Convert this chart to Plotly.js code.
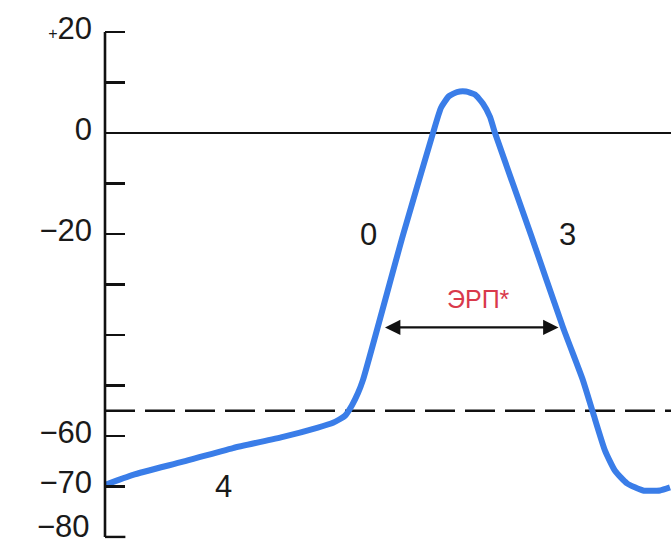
<!DOCTYPE html>
<html>
<head>
<meta charset="utf-8">
<script src="https://cdn.plot.ly/plotly-3.0.1.min.js"></script>
<style>
  html, body { margin: 0; padding: 0; background: #ffffff; overflow: hidden; }
  #chart { width: 671px; height: 549px; }
</style>
</head>
<body>
<div id="chart"></div>
<script>
// Action potential trace (time in ms, arbitrary scale; membrane potential in mV)
const timeMs = [0, 14, 39, 64, 89, 106, 114, 120, 123.5, 126.5, 129, 149, 164, 168, 172, 176, 180.5, 185, 189, 192.5, 195, 213, 229, 239, 244, 250, 255, 261, 269, 277.5, 282.5];
const voltageMv = [-69.7, -67.7, -65.1, -62.4, -60.2, -58.4, -57.4, -56, -53.9, -51.5, -48.9, -20.2, 0, 5, 7.3, 8.1, 8.2, 7.6, 5.8, 3.2, 0, -20.2, -38.5, -49, -55.4, -62.9, -66.9, -69.4, -70.8, -70.8, -70.2];

// Threshold level (dashed line)
const thresholdMv = -55;

// Axis ticks and labels
const tickValues = [20, 10, 0, -10, -20, -30, -40, -50, -60, -70];
const tickLabels = ['<span style="font-size:16px">+</span>20', '', '0', '', '−20', '', '', '', '−60', '−70'];
// axis extent; bottom end tick and label drawn separately
const axisTop = 20;
const bottomTick = -80;
const bottomLabel = '−80';

// Phase labels
const phaseLabels = ['0', '3', '4'];
const phaseTimes = [131.5, 231, 59];
const phaseVolts = [-20.2, -20.2, -70.1];

// ERP (effective refractory period) annotation
const erpLabel = 'ЭРП*';
const erpStart = 140;
const erpEnd = 227.5;
const erpLevel = -38.5;
const erpLabelTime = 186.5;
const erpLabelVolt = -32.9;

const xRange = [0, 283];
const yRange = [-81.4, 20.2];

const FONT = 'Liberation Sans, DejaVu Sans, sans-serif';

const traces = [{
  x: timeMs,
  y: voltageMv,
  type: 'scatter',
  mode: 'lines',
  line: { color: '#3a7de8', width: 6, shape: 'spline', smoothing: 0.5 },
  hoverinfo: 'skip',
  showlegend: false
}];

const annotations = phaseLabels.map((t, i) => ({
  x: phaseTimes[i], y: phaseVolts[i], xref: 'x', yref: 'y',
  text: t, showarrow: false,
  font: { family: FONT, size: 31, color: '#1a1a1a' }
}));

annotations.push({
  x: erpLabelTime, y: erpLabelVolt, xref: 'x', yref: 'y',
  text: erpLabel, showarrow: false,
  font: { family: FONT, size: 25, color: '#d9394b' }
});

annotations.push({
  x: erpStart, y: erpLevel, ax: erpEnd, ay: erpLevel,
  xref: 'x', yref: 'y', axref: 'x', ayref: 'y',
  text: '', showarrow: true,
  arrowhead: 2, startarrowhead: 2, arrowside: 'end+start',
  arrowsize: 1.4, startarrowsize: 1.4, arrowwidth: 2.2, arrowcolor: '#111111'
});

annotations.push({
  x: 0, xref: 'paper', xanchor: 'right', xshift: -13,
  y: bottomTick, yref: 'y', yanchor: 'middle', yshift: 10,
  text: bottomLabel, showarrow: false,
  font: { family: FONT, size: 31, color: '#1a1a1a' }
});

const layout = {
  width: 671,
  height: 549,
  margin: { l: 105, r: 0, t: 31, b: 5 },
  paper_bgcolor: '#ffffff',
  plot_bgcolor: '#ffffff',
  showlegend: false,
  xaxis: {
    range: xRange,
    visible: false,
    fixedrange: true
  },
  yaxis: {
    range: yRange,
    showgrid: false,
    zeroline: true,
    zerolinecolor: '#111111',
    zerolinewidth: 2.5,
    showline: false,
    ticks: 'inside',
    ticklen: 20,
    tickwidth: 2.2,
    tickcolor: '#111111',
    tickmode: 'array',
    tickvals: tickValues,
    ticktext: tickLabels,
    ticklabelstandoff: 12,
    ticklabelshift: -4,
    tickfont: { family: FONT, size: 31, color: '#1a1a1a' },
    fixedrange: true
  },
  shapes: [{
    type: 'line', xref: 'paper', yref: 'y',
    x0: 0, x1: 1, y0: thresholdMv, y1: thresholdMv,
    line: { color: '#111111', width: 2.6, dash: '30px,10px' },
    layer: 'below'
  }, {
    type: 'line', xref: 'paper', yref: 'y', layer: 'above',
    x0: 0, x1: 0, y0: bottomTick, y1: axisTop,
    line: { color: '#111111', width: 2.6 }
  }, {
    type: 'line', xref: 'paper', yref: 'y', layer: 'above',
    x0: 0, x1: 0.036, y0: bottomTick, y1: bottomTick,
    line: { color: '#111111', width: 2.4 }
  }],
  annotations: annotations
};

Plotly.newPlot('chart', traces, layout, { displayModeBar: false, staticPlot: true });
</script>
</body>
</html>
